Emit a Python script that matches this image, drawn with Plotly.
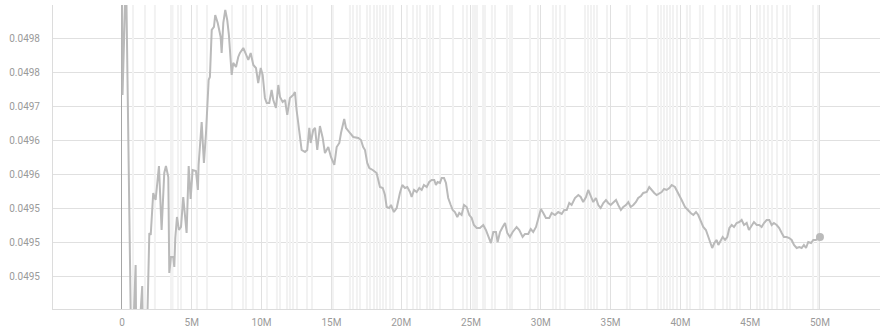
import plotly.graph_objects as go

# ---- data (steps in millions, metric values) ----
steps_m = [0.00, 0.04, 0.29, 0.69, 0.98, 1.04, 1.45, 1.54, 1.72, 1.96, 2.06,
           2.24, 2.41, 2.65, 2.84, 3.03, 3.15, 3.32, 3.39, 3.51, 3.67, 3.75, 3.82, 3.94, 4.08, 4.23,
           4.39, 4.63, 4.78, 4.92, 5.06, 5.30, 5.44, 5.49, 5.71, 5.87, 6.02, 6.21, 6.30, 6.43, 6.59,
           6.68, 6.86, 7.07, 7.14, 7.26, 7.40, 7.54, 7.66, 7.86, 7.97, 8.17, 8.33,
           8.45, 8.69, 8.88, 9.05, 9.22, 9.41, 9.60, 9.76, 9.94, 10.08, 10.24, 10.37, 10.55, 10.72,
           10.84, 11.03, 11.20, 11.32, 11.51, 11.68, 11.84, 12.03, 12.27, 12.39, 12.51, 12.70, 12.87,
           13.11, 13.27, 13.42, 13.52, 13.70, 13.83, 13.99, 14.18, 14.38, 14.54, 14.78, 14.97, 15.21,
           15.38, 15.57, 15.69, 15.92, 16.05, 16.33, 16.57, 16.93, 17.12, 17.28, 17.41, 17.57, 17.72,
           17.96, 18.24, 18.48,
           18.68, 18.84, 18.96, 19.15, 19.27, 19.48, 19.68, 19.91, 20.08, 20.27, 20.44, 20.63, 20.75,
           20.92, 21.11, 21.30, 21.47, 21.63, 21.83, 22.01, 22.18, 22.37, 22.49, 22.61, 22.78, 22.90,
           23.07, 23.21, 23.37, 23.55, 23.69, 23.85, 24.02, 24.16, 24.33, 24.50, 24.69, 24.88, 25.05,
           25.21, 25.41, 25.64, 25.88, 26.07, 26.24, 26.43, 26.60, 26.79, 26.91, 27.08, 27.27, 27.44,
           27.60, 27.79, 27.99, 28.27, 28.46, 28.70, 28.87, 29.10, 29.28, 29.46, 29.66, 29.82, 30.01,
           30.18, 30.37, 30.61, 30.78, 31.02, 31.25, 31.50, 31.68, 31.86, 32.04, 32.21, 32.45, 32.69,
           32.86, 33.04, 33.24, 33.40, 33.57, 33.76, 33.95, 34.12, 34.29, 34.48, 34.67, 34.83, 35.01,
           35.19, 35.39, 35.55, 35.74, 35.91, 36.10, 36.27, 36.44, 36.63, 36.82, 36.98, 37.18, 37.34,
           37.59, 37.77, 37.94, 38.13, 38.30, 38.49, 38.66, 38.83, 39.02, 39.21, 39.38, 39.61, 39.85,
           40.09, 40.33, 40.57, 40.74, 40.93, 41.12, 41.28, 41.45, 41.64, 41.83, 42.00, 42.17, 42.28,
           42.43, 42.60, 42.72, 42.89, 43.03, 43.20, 43.36, 43.51, 43.68, 43.84, 44.03, 44.22, 44.39,
           44.56, 44.75, 44.91, 45.11, 45.27, 45.47, 45.65, 45.82, 45.99, 46.18, 46.37, 46.54, 46.70,
           46.90, 47.08, 47.26, 47.42, 47.61, 47.80, 47.97, 48.14, 48.33, 48.52, 48.69, 48.85, 49.00,
           49.16, 49.36, 49.52, 49.71, 49.88, 50.00]

smoothed = [0.04990, 0.0497166, 0.04990, 0.04930, 0.0494666, 0.04930, 0.0494357, 0.04930, 0.04930, 0.0495137, 0.0495107,
            0.0495725, 0.0495622, 0.0496122, 0.0495181, 0.0496019, 0.0496122, 0.0495960, 0.0494548, 0.0494784, 0.0494784,
            0.0494637, 0.0495063, 0.0495372, 0.0495181, 0.0495225,
            0.0495666, 0.0495137, 0.0496122, 0.0495637, 0.0496063, 0.0496048, 0.0495769, 0.0496137, 0.0496769, 0.0496166,
            0.0496607, 0.0497387, 0.0497431, 0.0498122, 0.0498166,
            0.0498342, 0.0498225, 0.0498019, 0.0497784, 0.0498225, 0.0498416, 0.0498269, 0.0498048, 0.0497460, 0.0497637,
            0.0497578, 0.0497725,
            0.0497784, 0.0497857, 0.0497754, 0.0497681, 0.0497784, 0.0497607, 0.0497563, 0.0497342, 0.0497563, 0.0497460,
            0.0497122, 0.0497048, 0.0497048, 0.0497239,
            0.0497092, 0.0496975, 0.0497313, 0.0497137, 0.0497063, 0.0497092, 0.0496872, 0.0497122, 0.0497166, 0.0497210,
            0.0496945, 0.0496622, 0.0496357,
            0.0496328, 0.0496357, 0.0496681, 0.0496460, 0.0496651, 0.0496681, 0.0496357, 0.0496710, 0.0496534, 0.0496313,
            0.0496401, 0.0496254, 0.0496137,
            0.0496401, 0.0496460, 0.0496607, 0.0496813, 0.0496681, 0.0496607, 0.0496548, 0.0496534, 0.0496504, 0.0496401,
            0.0496357, 0.0496166, 0.0496092,
            0.0496063, 0.0496019, 0.0495813,
            0.0495798, 0.0495695, 0.0495519, 0.0495504, 0.0495548, 0.0495445, 0.0495504, 0.0495725, 0.0495842, 0.0495798,
            0.0495813, 0.0495739, 0.0495666,
            0.0495769, 0.0495739, 0.0495798, 0.0495769, 0.0495842, 0.0495813, 0.0495887, 0.0495916, 0.0495916, 0.0495842,
            0.0495887, 0.0495872, 0.0495945,
            0.0495945, 0.0495872, 0.0495651, 0.0495548, 0.0495475, 0.0495445, 0.0495372, 0.0495431, 0.0495401, 0.0495548,
            0.0495519, 0.0495401, 0.0495357,
            0.0495254, 0.0495210, 0.0495210, 0.0495254, 0.0495181, 0.0495078, 0.0494989, 0.0495151, 0.0495151, 0.0495004,
            0.0495151, 0.0495225, 0.0495284,
            0.0495137, 0.0495078, 0.0495151, 0.0495225, 0.0495181, 0.0495078, 0.0495122, 0.0495122, 0.0495195, 0.0495151,
            0.0495225, 0.0495357, 0.0495489,
            0.0495431, 0.0495357, 0.0495357, 0.0495431, 0.0495401, 0.0495445, 0.0495416, 0.0495475, 0.0495475, 0.0495578,
            0.0495548, 0.0495651, 0.0495695,
            0.0495666, 0.0495592, 0.0495666, 0.0495769, 0.0495695, 0.0495592, 0.0495651, 0.0495548, 0.0495504, 0.0495578,
            0.0495622, 0.0495578, 0.0495548,
            0.0495578, 0.0495622, 0.0495548, 0.0495475, 0.0495519, 0.0495548, 0.0495592, 0.0495519, 0.0495548, 0.0495592,
            0.0495651, 0.0495681, 0.0495725,
            0.0495739, 0.0495813, 0.0495769, 0.0495725, 0.0495695, 0.0495725, 0.0495739, 0.0495784, 0.0495769, 0.0495798,
            0.0495842, 0.0495813, 0.0495725,
            0.0495622, 0.0495519, 0.0495460, 0.0495431, 0.0495401, 0.0495445, 0.0495401, 0.0495328, 0.0495225, 0.0495181,
            0.0495078, 0.0495004, 0.0494916,
            0.0494989, 0.0495034, 0.0494960, 0.0495034, 0.0495078, 0.0495034, 0.0495078, 0.0495210, 0.0495254, 0.0495225,
            0.0495284, 0.0495298, 0.0495328,
            0.0495254, 0.0495284, 0.0495181, 0.0495254, 0.0495298, 0.0495254, 0.0495254, 0.0495225, 0.0495284, 0.0495328,
            0.0495328, 0.0495254, 0.0495284,
            0.0495254, 0.0495210, 0.0495137, 0.0495078, 0.0495078, 0.0495063, 0.0495034, 0.0494960, 0.0494916, 0.0494931,
            0.0494916, 0.0494960, 0.0494916,
            0.0495004, 0.0494989, 0.0495034, 0.0495034, 0.0495063, 0.0495078]

# raw (unsmoothed) series: steps where it swings far outside the view
raw_steps_m = [0.79, 1.65, 2.36, 3.51, 3.62, 4.01, 4.23, 5.37, 6.09, 7.88, 8.67, 8.88, 9.38, 10.39,
               11.10, 11.32, 11.82, 12.03, 12.25, 12.54, 13.25, 13.61, 15.11, 16.33, 16.55, 16.83,
               17.05, 17.55, 17.77, 18.05, 18.27, 18.48, 18.70, 18.91, 19.20, 19.41, 20.42, 20.85,
               21.13, 21.35, 21.85, 22.06, 22.28, 22.78, 23.71, 24.43, 24.71, 25.14, 25.29, 25.43,
               25.86, 26.00, 26.50, 26.72, 27.58, 27.79, 27.94, 29.23, 29.80, 30.87, 31.09, 31.38,
               31.73, 33.17, 33.38, 33.60, 33.81, 34.03, 34.74, 36.17, 36.39, 37.61, 38.40, 38.61,
               38.83, 39.04, 39.26, 39.47, 39.76, 40.47, 40.69, 41.40, 41.62, 42.48, 43.05, 43.34,
               43.55, 44.05, 44.27, 45.49, 45.70, 45.99, 46.27, 46.56, 46.92, 47.35, 47.64, 47.85,
               49.50, 49.86]
raw_high = 0.0500
raw_low = 0.0493

y_tickvals = [0.04980, 0.04975, 0.04970, 0.04965, 0.04960, 0.04955, 0.04950, 0.04945]
y_ticktext = ["0.0498", "0.0498", "0.0497", "0.0496", "0.0496", "0.0495", "0.0495", "0.0495"]

# ---- build ----
M = 1e6
steps = [s * M for s in steps_m]

raw_x, raw_y = [], []
for s in raw_steps_m:
    raw_x += [s * M, s * M, None]
    raw_y += [raw_high, raw_low, None]

fig = go.Figure()
fig.add_trace(go.Scatter(x=raw_x, y=raw_y, mode="lines",
                         line=dict(color="#f2f2f2", width=2),
                         hoverinfo="skip", showlegend=False))
fig.add_trace(go.Scatter(x=steps, y=smoothed, mode="lines",
                         line=dict(color="#bababa", width=2),
                         showlegend=False))
fig.add_trace(go.Scatter(x=[steps[-1]], y=[smoothed[-1]], mode="markers",
                         marker=dict(color="#bababa", size=8),
                         showlegend=False))

fig.update_layout(
    width=880, height=329,
    margin=dict(l=53, r=0, t=5, b=20),
    paper_bgcolor="white", plot_bgcolor="white",
    font=dict(family="Roboto, sans-serif", size=10, color="#9a9a9a"),
    xaxis=dict(range=[-4.94 * M, 54.3 * M], tick0=0, dtick=5 * M, tickformat="~s",
               showgrid=True, gridcolor="#e0e0e0", gridwidth=1,
               zeroline=True, zerolinecolor="#a6a6a6", zerolinewidth=1,
               showline=True, linecolor="#dcdcdc", linewidth=1,
               ticks="", ticklabelstandoff=4),
    yaxis=dict(range=[0.0494019, 0.0498489], tickvals=y_tickvals, ticktext=y_ticktext,
               showgrid=True, gridcolor="#e0e0e0", gridwidth=1,
               zeroline=False, showline=True, linecolor="#dcdcdc", linewidth=1,
               ticks="", ticklabelstandoff=10),
)

fig.write_html("out.html")
